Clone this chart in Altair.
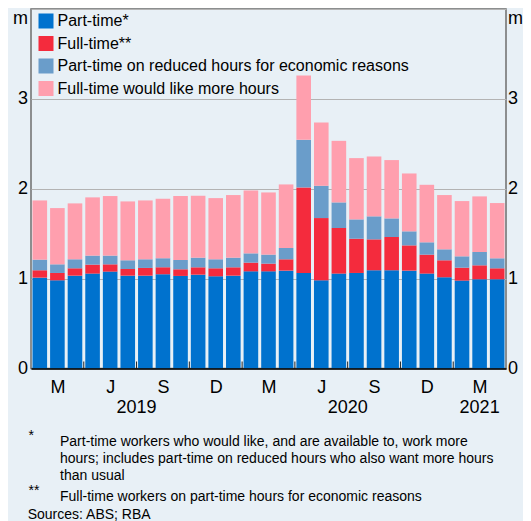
import altair as alt
import pandas as pd

# ---------------- data ----------------
months = [f"{y}-{m:02d}" for y in (2019, 2020) for m in range(1, 13)] + ["2021-01", "2021-02", "2021-03"]

part_time = [1.011, 0.981, 1.033, 1.056, 1.078, 1.033, 1.033, 1.048, 1.030, 1.044, 1.026, 1.033,
             1.081, 1.081, 1.089, 1.063, 0.981, 1.056, 1.063, 1.093, 1.093, 1.089, 1.056, 1.015,
             0.978, 0.993, 0.993]
full_time = [0.082, 0.082, 0.082, 0.100, 0.081, 0.074, 0.086, 0.078, 0.074, 0.082, 0.089, 0.093,
             0.097, 0.086, 0.126, 0.952, 0.693, 0.507, 0.381, 0.344, 0.370, 0.281, 0.211, 0.189,
             0.144, 0.155, 0.122]
pt_reduced = [0.118, 0.096, 0.100, 0.100, 0.097, 0.097, 0.096, 0.100, 0.103, 0.107, 0.100, 0.107,
              0.103, 0.100, 0.126, 0.529, 0.359, 0.285, 0.215, 0.256, 0.207, 0.156, 0.137, 0.122,
              0.126, 0.148, 0.111]
ft_more = [0.659, 0.626, 0.622, 0.648, 0.663, 0.655, 0.655, 0.663, 0.712, 0.689, 0.681, 0.697,
           0.700, 0.692, 0.707, 0.715, 0.704, 0.685, 0.682, 0.666, 0.649, 0.644, 0.640, 0.604,
           0.615, 0.619, 0.615]

series_names = ["Part-time*", "Full-time**",
                "Part-time on reduced hours for economic reasons",
                "Full-time would like more hours"]
series_colors = ["#0072CE", "#F42B3D", "#6A9DCA", "#FF9FAE"]
quarter_letters = ["M", "J", "S", "D"]
y_ticks = [0, 1, 2, 3, 4]
unit_label = "m"

note1_mark = "*"
note1_text = ("Part-time workers who would like, and are available to, work more\n"
              "hours; includes part-time on reduced hours who also want more hours\n"
              "than usual")
note2_mark = "**"
note2_text = "Full-time workers on part-time hours for economic reasons"
sources_text = "Sources: ABS; RBA"

# ---------------- tables ----------------
n = len(months)
rows = []
for k, (name, vals) in enumerate(zip(series_names, [part_time, full_time, pt_reduced, ft_more])):
    for m, v in zip(months, vals):
        rows.append({"month": m, "series": name, "value": v, "k": k})
long_df = pd.DataFrame(rows)

bounds_df = pd.DataFrame({"b": [i for i in range(1, n) if i % 3 == 0]})
quarter_mids = [i + 1.5 for i in range(0, n, 3)]
year_df = (pd.DataFrame({"year": [m[:4] for m in months], "c": [i + 0.5 for i in range(n)]})
           .groupby("year", as_index=False)["c"].mean())

W, H = 475, 359.5
FONT = "Liberation Sans"
letters_js = "[" + ",".join(f"'{q}'" for q in quarter_letters) + "]"
label_expr_y = f"datum.value == 4 ? '{unit_label}' : datum.label"
base_cond = {"condition": {"test": "datum.value == 4", "value": "top"}, "value": "middle"}

qscale = alt.Scale(domain=[0, n], nice=False, zero=False)
yscale = alt.Scale(domain=[0, 4], nice=False)

left_axis = alt.Axis(orient="left", values=y_ticks, labelExpr=label_expr_y, labelBaseline=base_cond,
                     domain=False, ticks=False, tickSize=0, labelPadding=3.5, labelFontSize=18,
                     labelColor="#000", grid=True, gridColor="#B3B3B3", gridWidth=1, title=None)
right_axis = alt.Axis(orient="right", values=y_ticks, labelExpr=label_expr_y, labelBaseline=base_cond,
                      domain=False, ticks=False, tickSize=0, labelPadding=1.5, labelFontSize=18,
                      labelColor="#000", grid=False, title=None)

bars = alt.Chart(long_df).mark_bar().encode(
    x=alt.X("month:N", sort=months,
            scale=alt.Scale(domain=months, paddingInner=0.17, paddingOuter=0.085), axis=None),
    y=alt.Y("value:Q", stack="zero", scale=yscale, axis=left_axis),
    color=alt.Color("series:N", sort=series_names,
                    scale=alt.Scale(domain=series_names, range=series_colors),
                    legend=alt.Legend(title=None, orient="none", legendX=7, legendY=4,
                                      labelFontSize=16, labelColor="#000", symbolType="square",
                                      symbolSize=225, symbolStrokeWidth=0, rowPadding=6.5,
                                      labelOffset=3.5, labelLimit=0)),
    order=alt.Order("k:Q", sort="ascending"),
)

ticks = alt.Chart(bounds_df).mark_rule(color="#222", strokeWidth=1).encode(
    x=alt.X("b:Q", scale=qscale,
            axis=alt.Axis(orient="bottom", values=quarter_mids,
                          labelExpr=letters_js + "[floor(datum.value/3)%4]",
                          ticks=False, tickSize=0, labelPadding=10.2, labelFontSize=18,
                          labelColor="#000", labelAngle=0, domain=True, domainColor="#000",
                          domainWidth=1.5, grid=False, title=None, zindex=1)),
    y=alt.YDatum(0, type="quantitative", scale=yscale, axis=right_axis),
    y2=alt.value(H - 7),
)

years = alt.Chart(year_df).mark_text(fontSize=18, baseline="alphabetic", align="center",
                                     color="#000").encode(
    x=alt.X("c:Q", scale=qscale, axis=None),
    y=alt.value(H + 44.5),
    text="year:N",
)


def note(txt, x, y):
    return alt.Chart(pd.DataFrame({"t": [txt]})).mark_text(
        align="left", baseline="alphabetic", fontSize=14, lineBreak="\n", lineHeight=17,
        color="#000").encode(x=alt.value(x), y=alt.value(y), text="t:N")


notes = [
    note(note1_mark, -2.5, 431),
    note(note1_text, 29, 436.5),
    note(note2_mark, -2.5, 486),
    note(note2_text, 29, 492),
    note(sources_text, -3.3, 510),
]

chart = (
    alt.layer(bars, ticks, years, *notes)
    .resolve_scale(x="independent")
    .resolve_axis(y="independent")
    .properties(width=W, height=H, autosize=alt.AutoSizeParams(type="none"),
                padding={"left": 23, "top": 1, "right": 17, "bottom": 152},
                background="#E8F0F6")
    .configure(font=FONT)
    .configure_view(stroke="#6E6E6E", strokeWidth=1.5)
)

chart.save("out.html", embed_options={"renderer": "svg", "actions": False})
